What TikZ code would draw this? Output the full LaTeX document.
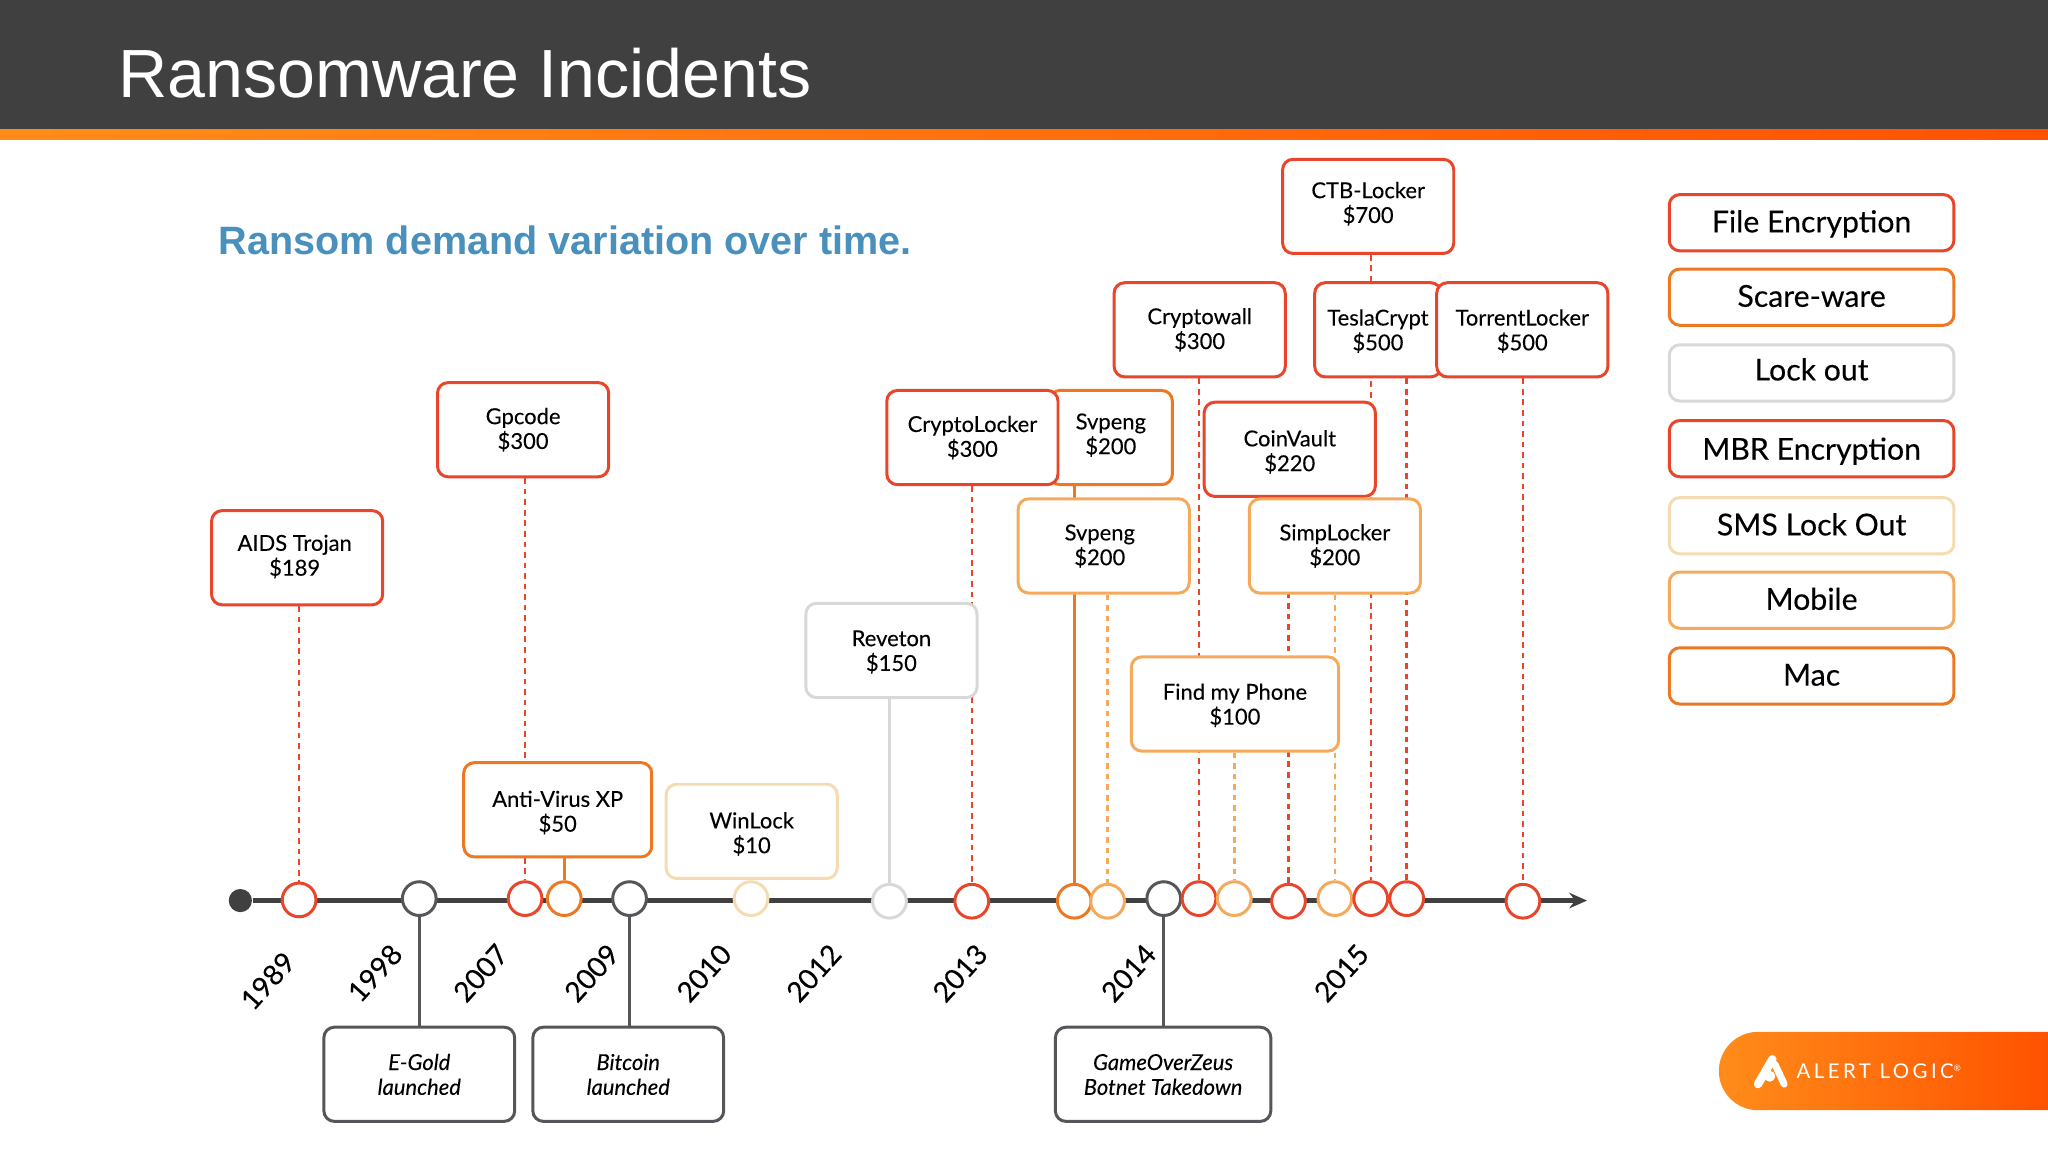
\documentclass[tikz,border=0pt]{standalone}
\usepackage{fontspec}
\setmainfont{Lato}
\newfontfamily\headfont{Liberation Sans}
\newfontfamily\logofont[LetterSpace=17]{Lato}
\newfontfamily\heavyfont[FakeBold=0.25]{Lato}
\newfontfamily\midfont[FakeBold=0.12]{Lato}
\usetikzlibrary{arrows.meta,backgrounds}
\definecolor{alred}{HTML}{E8452A}
\definecolor{aldeep}{HTML}{EE7722}
\definecolor{allight}{HTML}{F5A95B}
\definecolor{alcream}{HTML}{F5DBB2}
\definecolor{alsilver}{HTML}{D8D8D8}
\definecolor{alslate}{HTML}{55555A}
\definecolor{alaxis}{HTML}{404040}
\definecolor{alblue}{HTML}{4A90BC}
\definecolor{albandl}{HTML}{FF8C1A}
\definecolor{albandr}{HTML}{FF5200}
\tikzset{
  evbox/.style={draw, fill=white, rounded corners=3pt, line width=.85pt, align=center, inner sep=0pt,
    minimum width=48.7pt, minimum height=26.8pt, text=black, text height=11.6pt, text depth=1.4pt,
    font=\fontsize{6.25pt}{7.06pt}\midfont},
  nudge/.style={text height=11.6pt+.743pt*#1},
  keybox/.style={draw, fill=white, rounded corners=3pt, line width=.85pt, inner sep=0pt,
    minimum width=81pt, minimum height=16pt, text=black, text height=7.2pt, text depth=1.7pt,
    font=\fontsize{8.6pt}{9pt}\heavyfont},
  milebox/.style={evbox, draw=alslate, minimum width=54.3pt, nudge=2, font=\fontsize{6.25pt}{7.06pt}\midfont\itshape},
  dotnode/.style={circle, draw, fill=white, line width=.85pt, minimum size=9.6pt, inner sep=0pt},
  yearlabel/.style={rotate=48, font=\fontsize{8pt}{9pt}\heavyfont},
  solidlink/.style={line width=.85pt},
  dashlink/.style={line width=.7pt, dash pattern=on 1.6pt off 1.4pt}
}
\begin{document}
\begin{tikzpicture}[x=0.0130612cm, y=-0.0130612cm]
  \useasboundingbox (0,0) rectangle (1568,882);
  \fill[alaxis] (0,0) rectangle (1568,99); % top band
  \shade[left color=albandl, right color=albandr] (0,99) rectangle (1568,107);
  \node[anchor=west, inner sep=0pt, text=white, font=\fontsize{19.4pt}{22pt}\headfont] (title) at (90,56) {Ransomware Incidents};
  \node[anchor=west, inner sep=0pt, text=alblue, font=\fontsize{11.26pt}{14pt}\headfont\bfseries] (subtitle) at (167,184) {Ransom demand variation over time.};

  % legend
  \node[keybox, draw=alred] (keyfile) at (1387,170.5) {File Encryption};
  \node[keybox, draw=aldeep] (keyscare) at (1387,227.5) {Scare-ware};
  \node[keybox, draw=alsilver, text height=6pt] (keylock) at (1387,285.5) {Lock out};
  \node[keybox, draw=alred, text height=8pt] (keymbr) at (1387,343.5) {MBR Encryption};
  \node[keybox, draw=alcream] (keysms) at (1387,402.5) {SMS Lock Out};
  \node[keybox, draw=allight] (keymobile) at (1387,459.5) {Mobile};
  \node[keybox, draw=aldeep] (keymac) at (1387,517.5) {Mac};

  % boxes
  \node[evbox, draw=alred] (aids) at (227.5,427) {AIDS Trojan\hspace*{1.4pt}\\\$189\hspace*{1.4pt}};
  \node[evbox, draw=alred, nudge=1] (gpcode) at (400.5,329) {Gpcode\\\$300};
  \node[evbox, draw=aldeep, minimum width=53.5pt, nudge=3] (antivirus) at (427,620) {Anti-Virus XP\\\$50};
  \node[evbox, draw=alcream, nudge=3] (winlock) at (575.5,636.5) {WinLock\\\$10};
  \node[evbox, draw=alsilver, nudge=2] (reveton) at (682.5,498) {Reveton\\\$150};
  \node[evbox, draw=aldeep, minimum width=35pt, nudge=-1] (svpengmac) at (850.5,335) {Svpeng\\\$200};
  \node[evbox, draw=alred, nudge=1] (cryptolocker) at (744.5,335) {CryptoLocker\\\$300};
  \node[evbox, draw=allight, nudge=1] (svpengmob) at (845,418) {Svpeng\hspace*{2.2pt}\\\$200\hspace*{2.2pt}};
  \node[evbox, draw=alred, nudge=1] (cryptowall) at (918.5,252.5) {Cryptowall\\\$300};
  \node[evbox, draw=alred, nudge=-1] (ctb) at (1047.5,158) {CTB-Locker\\\$700};
  \node[evbox, draw=alred, minimum width=36pt, nudge=2] (tesla) at (1055,252.5) {TeslaCrypt\\\$500};
  \node[evbox, draw=alred, nudge=2] (torrent) at (1165.5,252.5) {TorrentLocker\\\$500};
  \node[evbox, draw=alred, nudge=3] (coinvault) at (987.5,344) {CoinVault\\\$220};
  \node[evbox, draw=allight, nudge=1] (simplocker) at (1022,418) {SimpLocker\\\$200};
  \node[evbox, draw=allight, minimum width=59pt, nudge=2] (findphone) at (945.5,539) {Find my Phone\\\$100};
  \node[milebox] (egold) at (321,822.5) {E-Gold\\launched};
  \node[milebox] (bitcoin) at (481,822.5) {Bitcoin\\launched};
  \node[milebox, minimum width=61.3pt] (gameover) at (890.5,822.5) {GameOverZeus\\Botnet Takedown};

  % timeline dots
  \node[circle, fill=alaxis, minimum size=6.6pt, inner sep=0pt] (start) at (184,689.5) {};
  \foreach \nm/\x/\y/\col in {d1/229/689/alred, d2/321/688/alslate, d3/402/688/alred, d4/432/688/aldeep,
    d5/482/688/alslate, d6/575/688/alcream, d7/681/690/alsilver, d8/744/690/alred, d9/822.5/690/aldeep,
    d10/848/690/allight, d11/891/688/alslate, d12/918/688/alred, d13/945/688/allight, d14/986.5/690/alred,
    d15/1022/688/allight, d16/1049.5/688/alred, d17/1077/688/alred, d18/1166/690/alred}
    \node[dotnode, draw=\col] (\nm) at (\x,\y) {};
  \coordinate (axisend) at (1215,689.5);

  % year labels
  \foreach \yr/\x/\y in {1989/205/751, 1998/287/745, 2007/368/745, 2009/453/745, 2010/539/745,
    2012/623/745, 2013/735/745, 2014/864/745, 2015/1027/745}
    \node[yearlabel] (y\yr) at (\x,\y) {\yr};

  % logo
  \shade[left color=albandl, right color=albandr] (1568,790) -- (1346,790) arc[start angle=-90, end angle=-270, radius=30] -- (1568,850) -- cycle;
  \draw[white, line width=2.4pt, line cap=round] (1357,811) -- (1346,830);
  \draw[white, line width=2pt, line cap=round] (1359,815) -- (1366,830);
  \fill[white] (1355,824) circle (4.2);
  \node[anchor=west, inner sep=0pt, text=white, font=\fontsize{5.8pt}{7pt}\logofont] (logotext) at (1375,820) {ALERT LOGIC\raisebox{2pt}{\fontsize{2.5pt}{3pt}\selectfont ®}};

  % connectors, behind all the boxes
  \begin{scope}[on background layer]
    \draw[alaxis, line width=1.6pt, -{Stealth[length=5pt,width=4.4pt]}] (start) -- (axisend);
    \draw[dashlink, alred] (aids.south -| d1) -- (d1);
    \draw[dashlink, alred] (gpcode.south -| d3) -- (d3);
    \draw[solidlink, aldeep] (antivirus.south -| d4) -- (d4);
    \draw[solidlink, alsilver] (reveton.south -| d7) -- (d7);
    \draw[dashlink, alred] (cryptolocker.south -| d8) -- (d8);
    \draw[solidlink, aldeep] (svpengmac.south -| d9) -- (d9);
    \draw[dashlink, allight] (svpengmob.south -| d10) -- (d10);
    \draw[dashlink, alred] (cryptowall.south -| d12) -- (d12);
    \draw[dashlink, allight] (findphone.south -| d13) -- (d13);
    \draw[dashlink, alred] (coinvault.south -| d14) -- (d14);
    \draw[dashlink, allight] (simplocker.south -| d15) -- (d15);
    \draw[dashlink, alred] (ctb.south -| d16) -- (d16);
    \draw[dashlink, alred] (tesla.south -| d17) -- (d17);
    \draw[dashlink, alred] (torrent.south -| d18) -- (d18);
    \draw[solidlink, alslate] (d2) -- (egold.north -| d2);
    \draw[solidlink, alslate] (d5) -- (bitcoin.north -| d5);
    \draw[solidlink, alslate] (d11) -- (gameover.north -| d11);
  \end{scope}
\end{tikzpicture}
\end{document}
